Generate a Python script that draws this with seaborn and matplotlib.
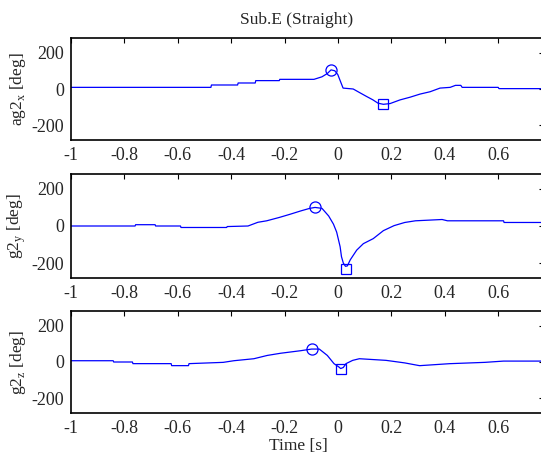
import numpy as np
import pandas as pd
import seaborn as sns
import matplotlib
matplotlib.use('Agg')
import matplotlib.pyplot as plt

# data (time in s, angle in deg)
t_x = [-1, -0.476, -0.474, -0.376, -0.374, -0.31, -0.308, -0.22, -0.218, -0.09,
       -0.06, -0.04, -0.026, -0.012, -0.001, 0.019, 0.057, 0.08, 0.107, 0.13,
       0.15, 0.17, 0.195, 0.232, 0.27, 0.307, 0.345, 0.382, 0.42, 0.44,
       0.46, 0.465, 0.6, 0.603, 0.77]
ag2_x = [9, 9, 22, 22, 33, 33, 46, 46, 53, 53,
         67, 85, 105, 100, 80, 5, 0, -19, -41, -59,
         -78, -84, -80, -60, -45, -28, -15, 5, 9, 20,
         20, 9, 9, 2, 2]

t_y = [-1, -0.76, -0.758, -0.685, -0.683, -0.59, -0.588, -0.417, -0.415, -0.337,
       -0.3, -0.267, -0.22, -0.18, -0.14, -0.106, -0.086, -0.06, -0.035, -0.017,
       -0.005, 0.008, 0.013, 0.02, 0.028, 0.035, 0.046, 0.07, 0.095, 0.132,
       0.17, 0.21, 0.25, 0.29, 0.39, 0.41, 0.62, 0.622, 0.77]
g2_y = [0, 0, 7, 7, 0, 0, -8, -8, -3, 0,
        20, 28, 46, 63, 81, 95, 100, 95, 54, 10,
        -33, -112, -165, -200, -217, -215, -182, -130, -95, -68,
        -25, 2, 19, 28, 35, 28, 28, 19, 19]

t_z = [-1, -0.842, -0.84, -0.77, -0.768, -0.625, -0.623, -0.56, -0.558, -0.43,
       -0.39, -0.315, -0.265, -0.215, -0.14, -0.099, -0.07, -0.04, -0.015, 0.003,
       0.01, 0.02, 0.03, 0.055, 0.08, 0.18, 0.25, 0.305, 0.307, 0.42,
       0.422, 0.55, 0.62, 0.77]
g2_z = [7, 7, 0, 0, -9, -9, -20, -20, -9, -2,
        7, 18, 36, 48, 62, 71, 71, 36, -9, -27,
        -36, -30, -9, 9, 18, 9, -5, -20, -20, -9,
        -9, -2, 5, 5]

# marked peaks (circle = max, square = min)
max_t = [-0.026, -0.086, -0.099]
max_v = [107, 100, 71]
min_t = [0.17, 0.029, 0.01]
min_v = [-84, -232, -41]

ylabels = [r'ag2$_\mathregular{x}$ [deg]', r'g2$_\mathregular{y}$ [deg]', r'g2$_\mathregular{z}$ [deg]']
xticks = [-1, -0.8, -0.6, -0.4, -0.2, 0, 0.2, 0.4, 0.6]
xticklabels = ['-1', '-0.8', '-0.6', '-0.4', '-0.2', '0', '0.2', '0.4', '0.6']
yticks = [-200, 0, 200]

sns.set_style('white')
plt.rcParams['font.family'] = ['Liberation Serif', 'DejaVu Serif']
plt.rcParams['mathtext.fontset'] = 'custom'
plt.rcParams['mathtext.rm'] = 'Liberation Serif'
plt.rcParams['axes.unicode_minus'] = False

W, H = 541, 459
fig = plt.figure(figsize=(W / 100, H / 100), dpi=100)

series = [(t_x, ag2_x), (t_y, g2_y), (t_z, g2_z)]
boxes = [(38, 140), (174, 278), (311, 413)]  # top, bottom in px
left_px = 71
px_per_unit = 267
xlim = (-1, 0.77)

for i, ((t, v), (top, bot)) in enumerate(zip(series, boxes)):
    ax = fig.add_axes([left_px / W, 1 - bot / H,
                       (xlim[1] - xlim[0]) * px_per_unit / W, (bot - top) / H])
    df = pd.DataFrame({'t': t, 'v': v})
    sns.lineplot(data=df, x='t', y='v', ax=ax, color='#0000ff', lw=0.9,
                 sort=False, estimator=None)
    ax.plot(max_t[i], max_v[i], 'o', mfc='none', mec='#0000ff', ms=8, mew=0.9)
    ax.plot(min_t[i], min_v[i], 's', mfc='none', mec='#0000ff', ms=7.5, mew=0.9)
    ax.set_xlim(*xlim)
    ax.set_ylim(-280, 280)
    ax.set_xticks(xticks)
    ax.set_xticklabels(xticklabels)
    ax.set_yticks(yticks)
    ax.tick_params(direction='in', top=True, right=True, length=3.5,
                   width=0.8, labelsize=13, pad=5, color='black')
    for s in ax.spines.values():
        s.set_visible(True)
        s.set_color('black')
        s.set_linewidth(1.2)
    ax.set_xlabel('')
    ax.set_ylabel(ylabels[i], fontsize=12.5)
    ax.yaxis.set_label_coords(-0.09, 0.5)

fig.text(297 / W, 1 - 20 / H, 'Sub.E (Straight)', ha='center', va='center', fontsize=12.5)
fig.text(298 / W, 1 - 446 / H, 'Time [s]', ha='center', va='center', fontsize=12.5)

fig.savefig('out.png', dpi=100)
